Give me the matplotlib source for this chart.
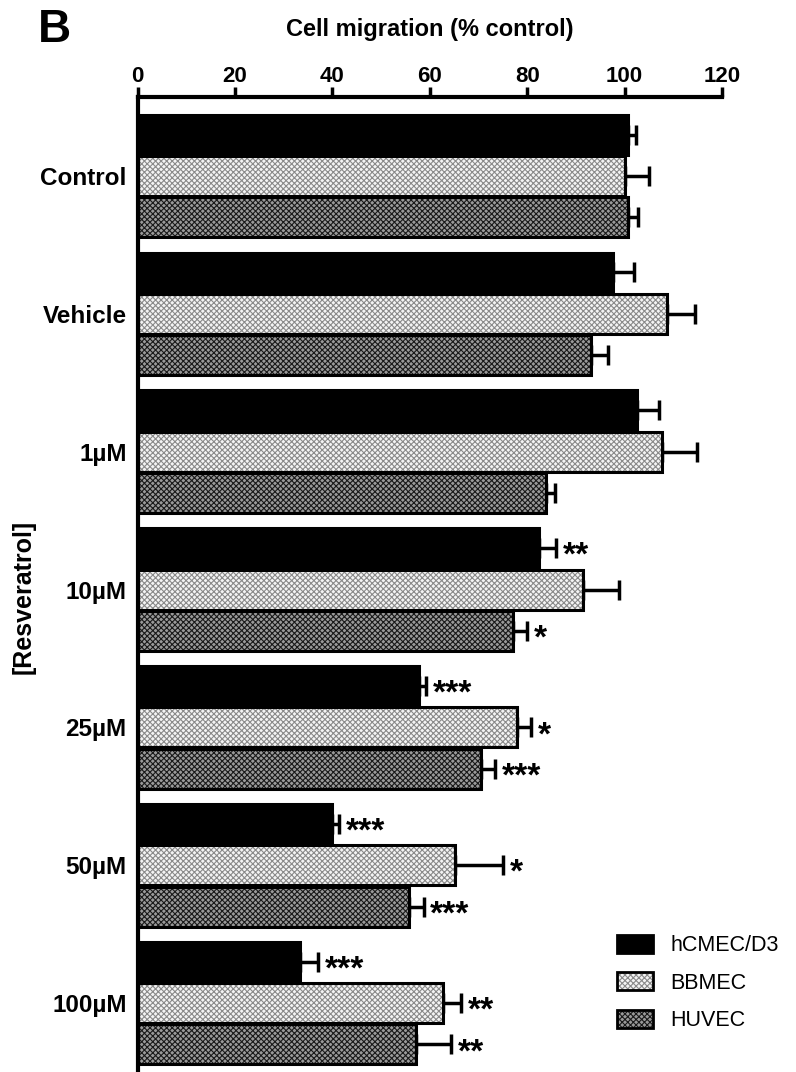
import numpy as np
import matplotlib
matplotlib.use("Agg")
import matplotlib.pyplot as plt
from matplotlib.patches import Patch

plt.rcParams['font.family'] = ['Liberation Sans', 'DejaVu Sans']
plt.rcParams['hatch.linewidth'] = 0.8

# data
groups = ['Control', 'Vehicle', '1µM', '10µM', '25µM', '50µM', '100µM']
series = ['hCMEC/D3', 'BBMEC', 'HUVEC']

hcmec = [100.7, 97.6, 102.5, 82.4, 57.7, 40.0, 33.3]
hcmec_err = [1.6, 4.3, 4.5, 3.5, 1.5, 1.3, 3.7]
hcmec_sig = ['', '', '', '**', '***', '***', '***']

bbmec = [100.1, 108.7, 107.7, 91.4, 77.9, 65.1, 62.7]
bbmec_err = [4.9, 5.7, 7.2, 7.4, 2.9, 10.0, 3.7]
bbmec_sig = ['', '', '', '', '*', '*', '**']

huvec = [100.7, 93.1, 83.8, 77.0, 70.5, 55.7, 57.1]
huvec_err = [2.0, 3.5, 2.0, 2.9, 2.9, 3.0, 7.3]
huvec_sig = ['', '', '', '*', '***', '***', '**']

styles = [
    dict(facecolor='black', hatch=None, hcol='black'),
    dict(facecolor='#f4f4f4', hatch='xxxxxx', hcol='#8a8a8a'),
    dict(facecolor='#9a9a9a', hatch='xxxxxx', hcol='#1a1a1a'),
]

fig = plt.figure(figsize=(7.96, 10.72), dpi=100)
ax = fig.add_axes([0.173, 0.0, 0.734, 0.9095])

y = np.arange(len(groups))
off = [-0.3, 0.0, 0.3]
h = 0.29
data = [(hcmec, hcmec_err, hcmec_sig), (bbmec, bbmec_err, bbmec_sig), (huvec, huvec_err, huvec_sig)]

for k, (vals, errs, sigs) in enumerate(data):
    st = styles[k]
    yy = y + off[k]
    ax.barh(yy, vals, height=h, color=st['facecolor'], edgecolor=st['hcol'],
            hatch=st['hatch'], linewidth=0, zorder=2)
    ax.barh(yy, vals, height=h, fill=False, edgecolor='black', linewidth=2.2, zorder=3)
    ax.errorbar(vals, yy, xerr=[np.zeros(len(vals)), errs], fmt='none',
                ecolor='black', elinewidth=2.5, capsize=7, capthick=2.5, zorder=1)
    for v, e, s, yi in zip(vals, errs, sigs, yy):
        if s:
            ax.text(v + e + 1.4, yi + 0.06, s, ha='left', va='center',
                    fontsize=24, fontweight='bold')

ax.set_xlim(0, 120)
ax.set_ylim(6.5, -0.573)
ax.xaxis.set_ticks_position('top')
ax.xaxis.set_label_position('top')
ax.set_xticks(np.arange(0, 121, 20))
ax.tick_params(axis='x', direction='out', length=7, width=2.5, labelsize=16, pad=0)
for lab in ax.get_xticklabels():
    lab.set_fontweight('bold')
ax.set_xlabel('Cell migration (% control)', fontsize=17, fontweight='bold', labelpad=22)

ax.set_yticks(y)
ax.set_yticklabels(groups, fontsize=17.5, fontweight='bold')
ax.tick_params(axis='y', length=0, pad=8)
ax.set_ylabel('[Resveratrol]', fontsize=18, fontweight='bold')
ax.yaxis.set_label_coords(-0.174, 0.487)

ax.spines['right'].set_visible(False)
ax.spines['bottom'].set_visible(False)
ax.spines['top'].set_linewidth(3)
ax.spines['left'].set_linewidth(3)

handles = [Patch(facecolor=st['facecolor'], edgecolor=st['hcol'], hatch=st['hatch'], linewidth=0)
           for st in styles]
handles = [(hd, Patch(fill=False, edgecolor='black', linewidth=2)) for hd in handles]
leg = ax.legend(handles, series, loc='lower right', bbox_to_anchor=(1.13, 0.022),
                frameon=False, fontsize=15.5, handlelength=1.65, handleheight=0.9,
                labelspacing=0.75, handletextpad=0.8)

fig.text(0.048, 0.972, 'B', fontsize=33, fontweight='bold', ha='left', va='center')

fig.savefig('out.png', dpi=100)
